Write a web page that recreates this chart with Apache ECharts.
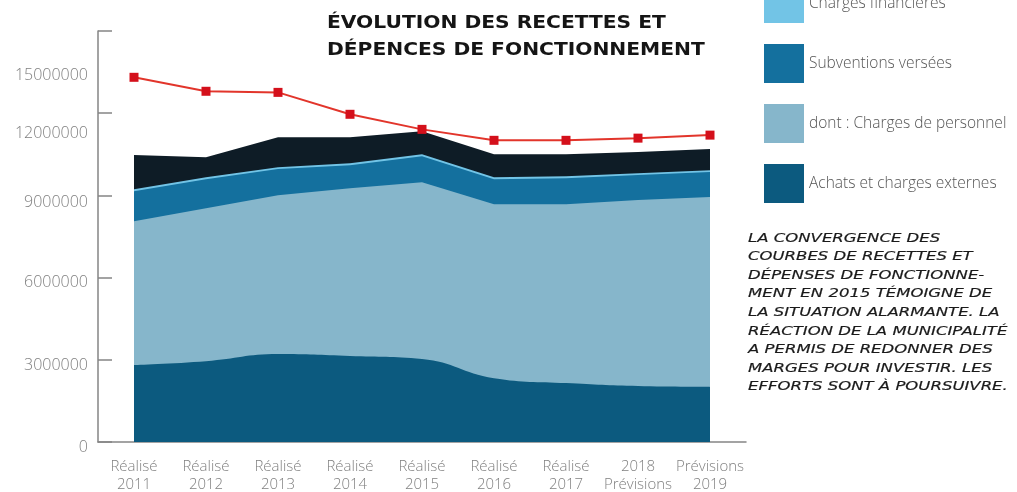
<!DOCTYPE html>
<html>
<head>
<meta charset="utf-8">
<script src="https://cdn.jsdelivr.net/npm/echarts@6/dist/echarts.min.js"></script>
<style>
html,body{margin:0;padding:0;background:#fff;}
#chart{width:1017px;height:492px;}
</style>
</head>
<body>
<div id="chart"></div>
<script>
// ---- data ----
var categories = ['Réalisé\n2011','Réalisé\n2012','Réalisé\n2013','Réalisé\n2014','Réalisé\n2015','Réalisé\n2016','Réalisé\n2017','2018\nPrévisions','Prévisions\n2019'];
var achats      = [2810000, 2950000, 3210000, 3140000, 3030000, 2330000, 2150000, 2040000, 2010000];
var personnel   = [5250000, 5580000, 5800000, 6120000, 6450000, 6350000, 6530000, 6790000, 6930000];
var subventions = [1090000, 1060000, 950000, 840000, 950000, 910000, 950000, 910000, 910000];
var chargesFin  = [70000, 70000, 70000, 70000, 70000, 70000, 70000, 70000, 70000];
var autres      = [1250000, 730000, 1090000, 950000, 840000, 840000, 800000, 770000, 770000];
var recettes    = [13310000, 12800000, 12760000, 11960000, 11410000, 11010000, 11010000, 11090000, 11200000];

// cumulative tops built from the component arrays
function addArr(a, b){ return a.map(function(v,i){ return v + b[i]; }); }
var cumAchats = achats.slice();
var cumPers = addArr(cumAchats, personnel);
var cumSubv = addArr(cumPers, subventions);
var cumFin = addArr(cumSubv, chargesFin);
var cumAutres = addArr(cumFin, autres);

var labelShift = {0:'s5', 3000000:'s6', 6000000:'s5', 9000000:'s7', 12000000:'s20', 15000000:'s44'};

var chart = echarts.init(document.getElementById('chart'));
function area(name, data, color, smooth){
  return {
    name: name, type: 'line', data: data, smooth: smooth || false,
    showSymbol: false, symbol: 'none',
    lineStyle: {width: 0, color: color},
    itemStyle: {color: color},
    areaStyle: {color: color, opacity: 1},
    silent: true, animation: false
  };
}
var option = {
  backgroundColor: '#fff',
  animation: false,
  legend: {
    orient: 'vertical', left: 764, top: -16, padding: 0,
    itemWidth: 40, itemHeight: 39, itemGap: 21, itemTextGap: 5,
    icon: 'rect',
    data: ['Charges financières','Subventions versées','dont : Charges de personnel','Achats et charges externes'],
    textStyle: {fontFamily: 'Open Sans', fontSize: 15.5, fontWeight: 300, color: '#555', padding: [4,0,0,0]},
    selectedMode: false
  },
  grid: {left: 98, right: 271, top: 31, bottom: 50, containLabel: false, outerBoundsMode: 'none'},
  xAxis: {
    type: 'category', data: categories, boundaryGap: true,
    axisLine: {lineStyle: {color: '#858585', width: 1.5}},
    axisTick: {show: false},
    axisLabel: {fontFamily: 'Open Sans', fontSize: 15, fontWeight: 300, color: '#808080', lineHeight: 18, margin: 16, interval: 0}
  },
  yAxis: {
    type: 'value', min: 0, max: 15000000, interval: 3000000,
    axisLine: {show: true, lineStyle: {color: '#858585', width: 1.5}},
    axisTick: {show: true, inside: true, length: 14, lineStyle: {color: '#858585', width: 1.5}},
    splitLine: {show: false},
    axisLabel: {
      fontFamily: 'Open Sans', fontSize: 16, fontWeight: 300, color: '#808080', margin: 10,
      formatter: function(v){ return '{' + (labelShift[v] || 's0') + '|' + v + '}'; },
      rich: {
        s0: {}, s5: {padding: [10,0,0,0]}, s6: {padding: [12,0,0,0]}, s7: {padding: [14,0,0,0]},
        s20: {padding: [40,0,0,0]}, s44: {padding: [88,0,0,0]}
      }
    }
  },
  graphic: [{
    type: 'text', x: 327, y: 10, scaleX: 1.19,
    style: {
      text: 'ÉVOLUTION DES RECETTES ET\nDÉPENCES DE FONCTIONNEMENT',
      font: 'bold 17px "DejaVu Sans"', fill: '#151515', lineHeight: 27,
      align: 'left', verticalAlign: 'top'
    }
  }, {
    type: 'text', x: 748, y: 229, scaleX: 1.27,
    style: {
      text: 'LA CONVERGENCE DES\nCOURBES DE RECETTES ET\nDÉPENSES DE FONCTIONNE-\nMENT EN 2015 TÉMOIGNE DE\nLA SITUATION ALARMANTE. LA\nRÉACTION DE LA MUNICIPALITÉ\nA PERMIS DE REDONNER DES\nMARGES POUR INVESTIR. LES\nEFFORTS SONT À POURSUIVRE.',
      font: 'italic 13px "DejaVu Sans"', fill: '#1a1a1a', lineHeight: 18.6,
      stroke: '#1a1a1a', lineWidth: 0.18,
      align: 'left', verticalAlign: 'top'
    }
  }],
  series: [
    area('Autres charges', cumAutres, '#0e1c26'),
    area('Charges financières', cumFin, '#72c4e6'),
    area('Subventions versées', cumSubv, '#14709e'),
    area('dont : Charges de personnel', cumPers, '#86b6cb'),
    area('Achats et charges externes', cumAchats, '#0c5a7f', 0.45),
    {
      name: 'Recettes', type: 'line', data: recettes,
      symbol: 'rect', symbolSize: 9, showSymbol: true,
      lineStyle: {color: '#e2352b', width: 2},
      itemStyle: {color: '#d4101b'},
      z: 5, animation: false
    }
  ]
};
chart.setOption(option);
</script>
</body>
</html>
